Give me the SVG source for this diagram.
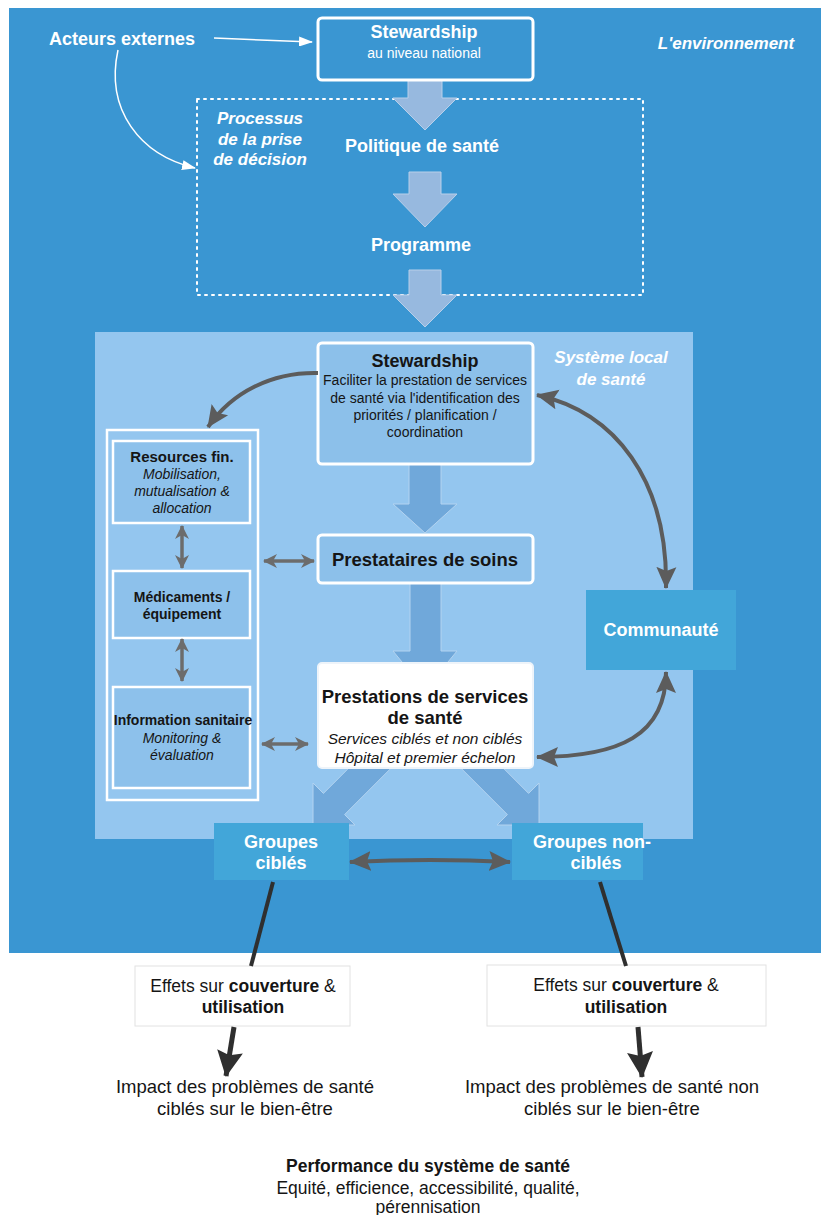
<svg xmlns="http://www.w3.org/2000/svg" width="821" height="1215" viewBox="0 0 821 1215">
<defs>
<style>
text{font-family:"Liberation Sans",Arial,sans-serif;text-anchor:middle}
.w{fill:#fff}
.k{fill:#151515}
.b{font-weight:bold}
.i{font-style:italic}
.ttl{font-size:18px;font-weight:bold}
.conn{fill:none;stroke:#5c5c5c;stroke-width:4}
.sm{fill:none;stroke:#6c6c6c;stroke-width:3.5}
.blk{fill:none;stroke:#2f2f2f;stroke-width:4}
.garrow{fill:#97b9df;stroke:#b9d0ea;stroke-width:1}
.larrow{fill:#70a8da;stroke:#b3d3f0;stroke-width:1}
.nodeL{fill:#8cc0ea;stroke:#fff;stroke-width:3}
.col{fill:#8dc1eb;stroke:#fff;stroke-width:2.5}
.cyan{fill:#42a6d9}
</style>
<marker id="hd" viewBox="0 0 22 22" refX="21" refY="11" markerWidth="22" markerHeight="22" markerUnits="userSpaceOnUse" orient="auto-start-reverse"><path d="M0,1 L22,11 L0,21 L4,11 z" fill="#5c5c5c"/></marker>
<marker id="hs" viewBox="0 0 14 14" refX="13" refY="7" markerWidth="14" markerHeight="14" markerUnits="userSpaceOnUse" orient="auto-start-reverse"><path d="M0,0 L14,7 L0,14 L4,7 z" fill="#6c6c6c"/></marker>
<marker id="hb" viewBox="0 0 26 26" refX="25" refY="13" markerWidth="26" markerHeight="26" markerUnits="userSpaceOnUse" orient="auto"><path d="M0,0 L26,13 L0,26 L4,13 z" fill="#2f2f2f"/></marker>
<marker id="hw" viewBox="0 0 14 10" refX="13" refY="5" markerWidth="14" markerHeight="10" markerUnits="userSpaceOnUse" orient="auto"><path d="M0,0 L14,5 L0,10 z" fill="#fff"/></marker>
</defs>

<rect x="0" y="0" width="821" height="1215" fill="#fff"/>
<g id="environnement">
<rect x="9" y="8" width="812" height="945" fill="#3a96d2"/>
<text class="w b i" x="726" y="49" font-size="17">L'environnement</text>
</g>

<g id="processus">
<rect x="197" y="99" width="446" height="196" fill="none" stroke="#fff" stroke-width="2" stroke-dasharray="2 5" stroke-linecap="round"/>
<text class="w b i" font-size="17" x="260" y="124">Processus</text>
<text class="w b i" font-size="17" x="260" y="145">de la prise</text>
<text class="w b i" font-size="17" x="260" y="165">de décision</text>
</g>

<g id="flux-national">
<polygon class="garrow" points="408,80 442,80 442,98 457,98 425,130 393,98 408,98"/>
<polygon class="garrow" points="409,172 441,172 441,194 457,194 425,227 393,194 409,194"/>
<polygon class="garrow" points="409,270 441,270 441,295 457,295 425,327 393,295 409,295"/>
</g>

<g id="acteurs">
<text class="w ttl" x="122" y="45" font-size="18.5">Acteurs externes</text>
</g>

<g id="stewardship-national">
<rect x="318" y="18" width="215" height="62" rx="4" fill="#3a96d2" stroke="#fff" stroke-width="3"/>
<text class="w ttl" x="424" y="38">Stewardship</text>
<text class="w" font-size="14" x="424" y="58">au niveau national</text>
</g>

<g id="politique">
<text class="w ttl" x="422" y="152">Politique de santé</text>
</g>
<g id="programme">
<text class="w ttl" x="421" y="251">Programme</text>
</g>

<g id="systeme-local">
<rect x="95" y="332" width="598" height="507" fill="#94c6ef"/>
<text class="w b i" font-size="17" x="611" y="363">Système local</text>
<text class="w b i" font-size="17" x="611" y="385">de santé</text>
</g>

<g id="flux-local">
<polygon class="larrow" points="409,464 441,464 441,504 457,504 425,533 393,504 409,504"/>
<polygon class="larrow" points="410,583 441,583 441,651 457,651 425,690 393,651 410,651"/>
<polygon class="larrow" points="313,825 313,783 323.4,793.4 380,736.8 401.2,758 344.6,814.6 355,825"/>
<polygon class="larrow" points="539,825 539,783 528.6,793.4 472,736.8 450.8,758 507.4,814.6 497,825"/>
</g>

<g id="stewardship-local">
<rect class="nodeL" x="318" y="343" width="215" height="121" rx="4"/>
<text class="k ttl" x="425" y="367">Stewardship</text>
<text class="k" font-size="14" x="425" y="385">Faciliter la prestation de services</text>
<text class="k" font-size="14" x="425" y="403">de santé via l'identification des</text>
<text class="k" font-size="14" x="425" y="420">priorités / planification /</text>
<text class="k" font-size="14" x="425" y="437">coordination</text>
</g>

<g id="prestataires">
<rect class="nodeL" x="318" y="535" width="215" height="48" rx="4"/>
<text class="k b" font-size="18.5" x="425" y="566">Prestataires de soins</text>
</g>

<g id="prestations">
<rect x="318" y="663" width="215" height="105" rx="4" fill="#fff" stroke="#eef4fa" stroke-width="2"/>
<text class="k b" font-size="18.5" x="425" y="703">Prestations de services</text>
<text class="k b" font-size="18.5" x="425" y="724">de santé</text>
<text class="k i" font-size="15.5" x="425" y="744">Services ciblés et non ciblés</text>
<text class="k i" font-size="15.5" x="425" y="763">Hôpital et premier échelon</text>
</g>

<g id="ressources-colonne">
<rect x="107" y="430" width="151" height="370" fill="none" stroke="#fff" stroke-width="2.5"/>
</g>
<g id="resources-fin">
<rect class="col" x="113" y="441" width="137" height="82"/>
<text class="k b" font-size="15" x="182" y="462">Resources fin.</text>
<text class="k i" font-size="14" x="182" y="479">Mobilisation,</text>
<text class="k i" font-size="14" x="182" y="496">mutualisation &amp;</text>
<text class="k i" font-size="14" x="182" y="513">allocation</text>
</g>
<g id="medicaments">
<rect class="col" x="113" y="571" width="137" height="67"/>
<text class="k b" font-size="14" x="182" y="602">Médicaments /</text>
<text class="k b" font-size="14" x="182" y="619">équipement</text>
</g>
<g id="information">
<rect class="col" x="113" y="687" width="137" height="101"/>
<text class="k b" font-size="14" x="183" y="725">Information sanitaire</text>
<text class="k i" font-size="14" x="182" y="743">Monitoring &amp;</text>
<text class="k i" font-size="14" x="182" y="760">évaluation</text>
</g>

<g id="communaute">
<rect class="cyan" x="586" y="590" width="150" height="80"/>
<text class="w ttl" x="661" y="636">Communauté</text>
</g>

<g id="groupes-cibles">
<rect class="cyan" x="214" y="823" width="135" height="57"/>
<text class="w ttl" x="281" y="848">Groupes</text>
<text class="w ttl" x="281" y="869">ciblés</text>
</g>
<g id="groupes-non-cibles">
<rect class="cyan" x="512" y="823" width="131" height="57"/>
<text class="w ttl" x="592" y="848">Groupes non-</text>
<text class="w ttl" x="596" y="869">ciblés</text>
</g>

<g id="effets-cibles">
<rect x="135" y="966" width="215" height="60" fill="#fff" stroke="#e2e2e2" stroke-width="1"/>
<text class="k" font-size="17.5" x="243" y="992">Effets sur <tspan font-weight="bold">couverture</tspan> &amp;</text>
<text class="k b" font-size="17.5" x="243" y="1013">utilisation</text>
</g>
<g id="effets-non-cibles">
<rect x="487" y="965" width="279" height="61" fill="#fff" stroke="#e2e2e2" stroke-width="1"/>
<text class="k" font-size="17.5" x="626" y="991">Effets sur <tspan font-weight="bold">couverture</tspan> &amp;</text>
<text class="k b" font-size="17.5" x="626" y="1013">utilisation</text>
</g>

<g id="impact-cibles">
<text class="k" font-size="18.5" x="245" y="1093">Impact des problèmes de santé</text>
<text class="k" font-size="18.5" x="245" y="1115">ciblés sur le bien-être</text>
</g>
<g id="impact-non-cibles">
<text class="k" font-size="18.5" x="612" y="1093">Impact des problèmes de santé non</text>
<text class="k" font-size="18.5" x="612" y="1115">ciblés sur le bien-être</text>
</g>

<g id="performance">
<text class="k b" font-size="17.5" x="428" y="1172">Performance du système de santé</text>
<text class="k" font-size="17.5" x="428" y="1194">Equité, efficience, accessibilité, qualité,</text>
<text class="k" font-size="17.5" x="428" y="1213">pérennisation</text>
</g>

<g id="connecteurs">
<path d="M214,38 L312,42" fill="none" stroke="#fff" stroke-width="1.5" marker-end="url(#hw)"/>
<path d="M118,50 C105,110 140,155 195,168" fill="none" stroke="#fff" stroke-width="1.5" marker-end="url(#hw)"/>
<path class="conn" d="M318,373 C272,372 232,392 208,427" marker-end="url(#hd)"/>
<path class="conn" d="M537,395 C615,412 668,480 666,588" marker-start="url(#hd)" marker-end="url(#hd)"/>
<path class="conn" d="M666,672 C666,735 620,757 537,757" marker-start="url(#hd)" marker-end="url(#hd)"/>
<path class="conn" d="M350,862 Q430,858 510,862" stroke="#4a4a4a" marker-start="url(#hd)" marker-end="url(#hd)"/>
<path class="sm" d="M182,526 L182,568" marker-start="url(#hs)" marker-end="url(#hs)"/>
<path class="sm" d="M182,639 L182,681" marker-start="url(#hs)" marker-end="url(#hs)"/>
<path class="sm" d="M264,561 L314,561" marker-start="url(#hs)" marker-end="url(#hs)"/>
<path class="sm" d="M262,744 L308,744" marker-start="url(#hs)" marker-end="url(#hs)"/>
<path class="blk" d="M273,882 L251,966"/>
<path class="blk" d="M600,882 L626,966"/>
<path d="M234,1027 L226,1076" fill="none" stroke="#2f2f2f" stroke-width="5" marker-end="url(#hb)"/>
<path d="M638,1027 L642,1077" fill="none" stroke="#2f2f2f" stroke-width="5" marker-end="url(#hb)"/>
</g>
</svg>
